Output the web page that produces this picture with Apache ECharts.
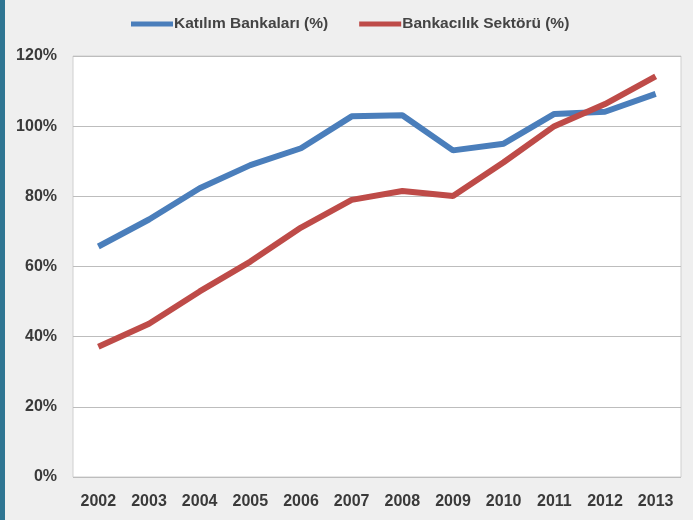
<!DOCTYPE html>
<html>
<head>
<meta charset="utf-8">
<script src="https://cdn.jsdelivr.net/npm/echarts@6/dist/echarts.min.js"></script>
<style>
html,body{margin:0;padding:0;background:#efefef;}
#wrap{position:absolute;left:0;top:0;width:693px;height:520px;}
#strip{position:absolute;left:0;top:0;width:5px;height:520px;background:#2f7592;}
#chart{position:absolute;left:0;top:0;width:693px;height:520px;}
</style>
</head>
<body>
<div id="wrap"><div id="chart"></div><div id="strip"></div></div>
<script>
const years = ['2002','2003','2004','2005','2006','2007','2008','2009','2010','2011','2012','2013'];
const katilim = [65.7, 73.4, 82.3, 88.9, 93.7, 102.8, 103.1, 93.1, 95.0, 103.5, 104.1, 109.2];
const bankacilik = [37.1, 43.7, 52.9, 61.4, 71.1, 79.0, 81.5, 80.1, 89.7, 100.0, 106.3, 114.2];
const seriesNames = ['Katılım Bankaları (%)', 'Bankacılık Sektörü (%)'];

const chart = echarts.init(document.getElementById('chart'));
chart.setOption({
  backgroundColor: '#efefef',
  animation: false,
  legend: {
    left: 126, top: 11,
    itemWidth: 42, itemHeight: 5, itemGap: 31,
    icon: 'rect',
    textStyle: {fontFamily: 'Liberation Sans', fontWeight: 'bold', fontSize: 15.5, color: '#444', padding: [0, 0, 0, -4]},
    data: seriesNames
  },
  grid: {left: 73, right: 12, top: 56, bottom: 43, show: true, backgroundColor: '#fff', borderColor: '#cfcfcf', borderWidth: 1},
  xAxis: {
    type: 'category', data: years, boundaryGap: true,
    axisLine: {show: false}, axisTick: {show: false},
    axisLabel: {fontFamily: 'Liberation Sans', fontWeight: 'bold', fontSize: 16, color: '#3a3a3a', margin: 17}
  },
  yAxis: {
    type: 'value', min: 0, max: 120, interval: 20,
    axisLine: {show: false}, axisTick: {show: false},
    splitLine: {lineStyle: {color: '#bdbdbd', width: 1}},
    axisLabel: {formatter: '{value}%', fontFamily: 'Liberation Sans', fontWeight: 'bold', fontSize: 16, color: '#3a3a3a', margin: 16}
  },
  series: [
    {name: seriesNames[0], type: 'line', data: katilim, symbol: 'none', color: '#4a7ebb', lineStyle: {width: 6, color: '#4a7ebb'}},
    {name: seriesNames[1], type: 'line', data: bankacilik, symbol: 'none', color: '#be4b48', lineStyle: {width: 6, color: '#be4b48'}}
  ]
});
</script>
</body>
</html>
